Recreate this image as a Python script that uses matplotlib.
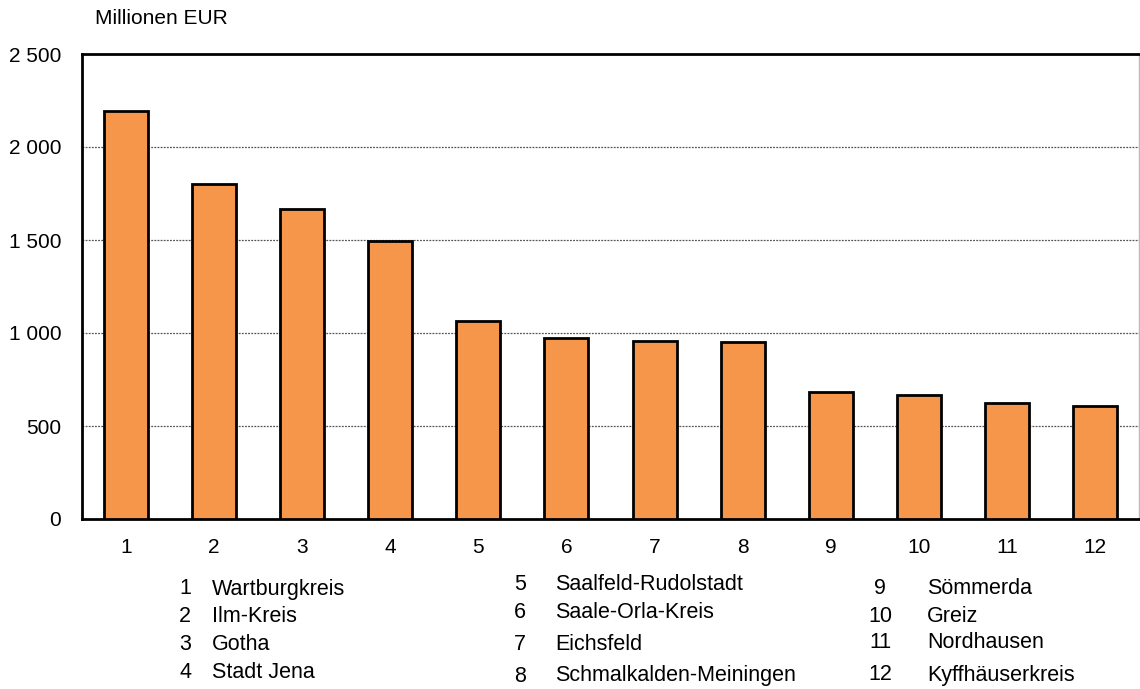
import matplotlib.pyplot as plt
from matplotlib.ticker import FuncFormatter

plt.rcParams['font.family'] = ['Liberation Sans', 'DejaVu Sans']

# Kreise nach Wert, Millionen EUR
nummern = list(range(1, 13))
werte = [2193, 1801, 1667, 1495, 1065, 973, 957, 952, 683, 667, 624, 608]
namen = ['Wartburgkreis', 'Ilm-Kreis', 'Gotha', 'Stadt Jena',
         'Saalfeld-Rudolstadt', 'Saale-Orla-Kreis', 'Eichsfeld', 'Schmalkalden-Meiningen',
         'Sömmerda', 'Greiz', 'Nordhausen', 'Kyffhäuserkreis']

fig = plt.figure(figsize=(11.4, 6.89), dpi=100)
ax = fig.add_axes([82 / 1140, 1 - 519 / 689, 1057 / 1140, 465 / 689])

ax.bar(nummern, werte, width=0.5, color='#f5964a', edgecolor='black', linewidth=2, zorder=3)

ax.set_xlim(0.5, 12.5)
ax.set_ylim(0, 2500)
ax.set_yticks([0, 500, 1000, 1500, 2000, 2500])
ax.set_xticks(nummern)
ax.yaxis.set_major_formatter(FuncFormatter(lambda v, p: f'{int(v):,}'.replace(',', ' ')))
ax.tick_params(length=0, labelsize=15)
ax.tick_params(axis='x', pad=14)
ax.tick_params(axis='y', pad=15)
for y in [500, 1000, 1500, 2000]:
    ax.axhline(y, color='#555555', linestyle=(0, (1.5, 1)), linewidth=0.9, zorder=1)

for s in ['left', 'top', 'bottom']:
    ax.spines[s].set_linewidth(2)
    ax.spines[s].set_color('black')
ax.spines['right'].set_color('#bbbbbb')
ax.spines['right'].set_linewidth(1)

fig.text(95 / 1140, 1 - 19 / 689, 'Millionen EUR', fontsize=15, va='center', ha='left')

# Legende in drei Spalten
spalten = [(185, 212, [589, 617, 645, 672]),
           (520, 555, [584, 613, 645, 676]),
           (880, 927, [588, 616, 642, 675])]
for k, (xn, xt, ys) in enumerate(spalten):
    for j in range(4):
        i = k * 4 + j
        fig.text(xn / 1140, 1 - ys[j] / 689, str(nummern[i]), fontsize=15.5, va='center', ha='center')
        fig.text(xt / 1140, 1 - ys[j] / 689, namen[i], fontsize=15.5, va='center', ha='left')

fig.savefig('out.png', dpi=100)
